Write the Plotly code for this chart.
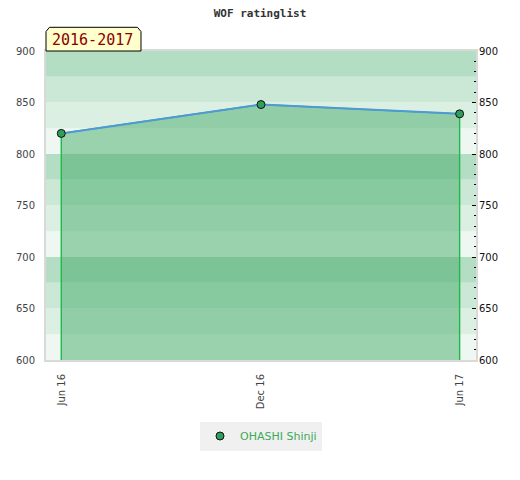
import plotly.graph_objects as go

# Data
dates = ["2016-06-01", "2016-12-01", "2017-06-01"]
ratings = [820, 848, 839]
player = "OHASHI Shinji"
season = "2016-2017"

y_min, y_max = 600, 900
y_ticks = [600, 650, 700, 750, 800, 850, 900]
band_edges = [600, 625, 650, 675, 700, 725, 750, 775, 800, 825, 850, 875, 900]
band_colors = ["#eef7f1", "#dcefe3", "#cae8d5", "#b3dec4"]

fig = go.Figure()

# filled area with green vertical edges (closed polygon down to the axis floor)
fig.add_trace(go.Scatter(
    x=[dates[0]] + dates + [dates[-1]],
    y=[y_min] + ratings + [y_min],
    fill="toself",
    fillcolor="rgba(62,167,98,0.47)",
    line=dict(color="#1fb84a", width=1.4),
    mode="lines",
    hoverinfo="skip",
    showlegend=False,
))

# blue rating line
fig.add_trace(go.Scatter(
    x=dates, y=ratings, mode="lines",
    line=dict(color="#5099d8", width=2),
    showlegend=False,
))

# markers (legend entry)
fig.add_trace(go.Scatter(
    x=dates, y=ratings, mode="markers", name=player,
    marker=dict(size=8, color="#2e9e5b", line=dict(color="#111111", width=1)),
))

# dummy trace for the right axis
fig.add_trace(go.Scatter(x=dates, y=ratings, yaxis="y2", mode="none",
                         showlegend=False, hoverinfo="skip"))

# background bands
shapes = []
for i in range(len(band_edges) - 1):
    shapes.append(dict(
        type="rect", xref="paper", yref="y", x0=0, x1=1,
        y0=band_edges[i], y1=band_edges[i + 1],
        fillcolor=band_colors[i % 4], line=dict(width=0), layer="below",
    ))

# season label box with cut top corners
shapes.append(dict(
    type="path", xref="paper", yref="paper",
    path="M 0 1 L 0 1.063 L 0.008 1.0767 L 0.2128 1.0767 L 0.2209 1.063 L 0.2209 1 Z",
    fillcolor="#ffffcc", line=dict(color="#000000", width=1), layer="above",
))

fig.update_layout(
    width=520, height=480,
    margin=dict(l=38, r=52, t=43, b=128),
    paper_bgcolor="white", plot_bgcolor="white",
    title=dict(text="WOF ratinglist", x=(260 - 8) / 520, xanchor="center",
               y=1 - 5 / 480, yanchor="middle", yref="container",
               font=dict(family="DejaVu Sans Mono", size=11, color="#333333", weight="bold")),
    shapes=shapes,
    annotations=[dict(
        text=season, xref="paper", yref="paper", x=0.1074, y=1.036,
        xanchor="center", yanchor="middle", showarrow=False,
        font=dict(family="DejaVu Sans Mono", size=15, color="#8b0000"),
    )],
    xaxis=dict(
        type="date", range=["2016-05-18", "2017-06-16"], automargin=False,
        tickvals=dates, tickformat="%b %y", tickangle=-90,
        tickfont=dict(family="DejaVu Sans", size=10, color="#444444"),
        showgrid=False, zeroline=False, ticks="", ticklabelstandoff=8,
        showline=True, mirror=True, linecolor="#d9d9d9", linewidth=2,
    ),
    yaxis=dict(
        range=[y_min, y_max], tickvals=y_ticks, automargin=False,
        tickfont=dict(family="DejaVu Sans", size=10, color="#444444"),
        showgrid=False, zeroline=False, ticks="", ticklabelstandoff=7,
        showline=True, mirror=True, linecolor="#d9d9d9", linewidth=2,
    ),
    yaxis2=dict(
        range=[y_min, y_max], tickvals=y_ticks, overlaying="y", side="right",
        automargin=False,
        tickfont=dict(family="DejaVu Sans", size=10, color="#111111"),
        showgrid=False, zeroline=False, ticklabelstandoff=2,
        ticks="inside", ticklen=4, tickcolor="#000000", tickwidth=1,
        minor=dict(dtick=10, ticks="inside", ticklen=2, tickcolor="#000000", showgrid=False),
    ),
    legend=dict(
        orientation="h", x=0.5, xanchor="center", y=-0.246, yanchor="middle",
        bgcolor="#f0f0f0", font=dict(family="DejaVu Sans", size=11, color="#3aaa5a"),
    ),
)

fig.write_html("out.html")
